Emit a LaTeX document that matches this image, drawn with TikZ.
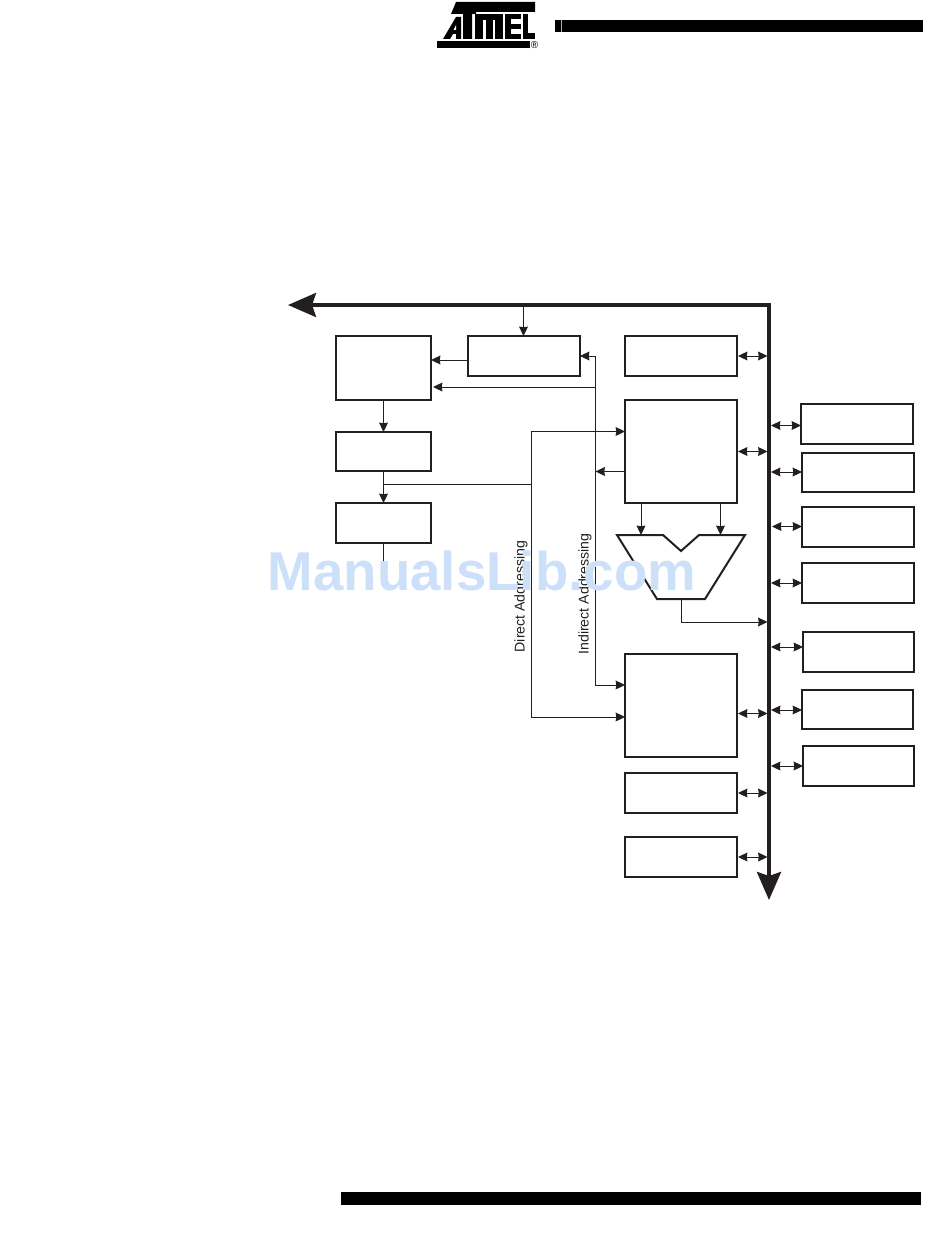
\documentclass[tikz,border=0pt]{standalone}
\usepackage{fontspec}
\setmainfont{Liberation Sans}
\usetikzlibrary{arrows.meta,fit}
\definecolor{ink}{HTML}{231F20}
\definecolor{wm}{HTML}{CCE0F9}
\tikzset{
  blockbox/.style={draw=ink,line width=1.5pt,inner sep=0pt,outer sep=0pt,fill=white},
  wire/.style={draw=ink,line width=0.75pt},
  tip/.style={-{Stealth[length=7pt,width=6.6pt,inset=0.4pt]}},
  dtip/.style={{Stealth[length=7pt,width=6.6pt,inset=0.4pt]}-{Stealth[length=7pt,width=6.6pt,inset=0.4pt]}},
  busline/.style={draw=ink,line width=2.9pt,miter limit=10,{Stealth[length=21pt,width=18pt,inset=3pt]}-{Stealth[length=21pt,width=18pt,inset=3pt]}},
  addr/.style={rotate=90,font=\fontsize{10.6pt}{12pt}\selectfont,text=ink,inner sep=0pt},
  watermark/.style={font=\bfseries\fontsize{41pt}{50pt}\selectfont,text=wm,inner sep=0pt},
  solidblack/.style={fill=black,draw=none},
  solidwhite/.style={fill=white,draw=none}
}
\newcommand{\blk}[5]{\node[blockbox,fit={(#2,#3)(#4,#5)}] (#1) {};}
\begin{document}
\begin{tikzpicture}[x=0.75pt,y=-0.75pt]
\useasboundingbox (0,0) rectangle (950,1248);
% header and footer bars
\path[solidblack] (555,20) rectangle (923,32);
\path[fill=white!70!black,draw=none] (560.6,20) rectangle (561.2,32);
\path[solidblack] (341,1192) rectangle (921,1205);
% logo
\path[solidblack] (456,2) -- (535,2) -- (535,12) -- (476,12) -- (476,14) -- (472,14) -- (472,39) -- (463,39) -- (463,14) -- (451,14) -- cycle;
\path[solidblack] (437,41.5) -- (530,41.5) -- (530,48.5) -- (437,48.5) -- cycle;
\path[solidblack] (443,39) -- (456,17) -- (461,17) -- (461,39) -- (456,39) -- (456,34) -- (453,34) -- (450,39) -- cycle;
\path[solidwhite] (456,25) -- (456,30) -- (453.5,30) -- cycle;
\path[solidblack] (475,14) rectangle (503,39);
\path[solidwhite] (483,20) rectangle (485.5,39);
\path[solidwhite] (492.5,20) rectangle (495,39);
\path[solidblack] (505,14) rectangle (521,39);
\path[solidwhite] (511,19) rectangle (521,24);
\path[solidwhite] (511,29) rectangle (521,34);
\path[solidblack] (523,14) rectangle (528,39);
\path[solidblack] (523,33.5) rectangle (535,39);
\node[inner sep=0pt,font=\fontsize{7.5pt}{8pt}\selectfont,text=black] (logoR) at (534.5,45.5) {®};
% blocks
\blk{A}{336}{336}{431}{400}
\blk{B}{468}{336}{580}{376}
\blk{C}{336}{432}{431}{471}
\blk{D}{336}{503}{431}{543}
\blk{E}{625}{336}{737}{376}
\blk{F}{625}{400}{737}{503}
\blk{G}{625}{654}{737}{757}
\blk{H}{625}{773}{737}{813}
\blk{I}{625}{837}{737}{877}
\blk{Ra}{801}{404}{913}{444}
\blk{Rb}{802}{453}{914}{492}
\blk{Rc}{802}{507}{914}{547}
\blk{Rd}{802}{563}{914}{603}
\blk{Re}{803}{632}{914}{672}
\blk{Rf}{802}{690}{913}{729}
\blk{Rg}{803}{746}{914}{786}
% ALU
\draw[draw=ink,line width=1.5pt,fill=white,miter limit=6] (617,535) -- (663,535) -- (681,551) -- (699,535) -- (745,535) -- (705,599) -- (657,599) -- cycle;
\coordinate (aluInA) at (641,535);
\coordinate (aluInB) at (720.5,535);
\coordinate (aluOut) at (681,599);
% bus
\coordinate (busL) at (288,305);
\coordinate (busC) at (769,305);
\coordinate (busB) at (769,900);
\draw[busline] (busL) -- (busC) -- (busB);
% junctions and free ends
\coordinate (jI) at (595.5,387);
\coordinate (jF) at (595.5,471.5);
\coordinate (jD) at (531.5,484);
\coordinate (jC) at (383.5,484);
\coordinate (dEnd) at (383.5,578);
% control connectors
\draw[wire,tip] (523.5,306) -- (B.north -| 523.5,0);
\draw[wire,tip] (B.west |- 0,360) -- (A.east |- 0,360);
\draw[wire,tip] (A.south) -- (C.north);
\draw[wire,tip] (C.south) -- (D.north);
\draw[wire] (D.south) -- (dEnd);
\draw[wire] (jC) -- (jD);
\draw[wire,tip] (jD) -- (531.5,431.5) -- (F.west |- 0,431.5);
\draw[wire,tip] (jD) -- (531.5,717) -- (G.west |- 0,717);
\draw[wire,tip] (595.5,356) -- (B.east |- 0,356);
\draw[wire,tip] (595.5,356) -- (595.5,685) -- (G.west |- 0,685);
\draw[wire,tip] (jI) -- (433,387);
\draw[wire,tip] (F.west |- jF) -- (jF);
\draw[wire,tip] (F.south -| 641,0) -- (aluInA);
\draw[wire,tip] (F.south -| 720.5,0) -- (aluInB);
\draw[wire,tip] (aluOut) -- (681,622) -- (767.5,622);
% bus links, left
\draw[wire,dtip] (E.east |- 0,356) ++(1,0) -- (767.5,356);
\draw[wire,dtip] (F.east |- 0,451.5) ++(1,0) -- (767.5,451.5);
\draw[wire,dtip] (G.east |- 0,713.5) ++(1,0) -- (767.5,713.5);
\draw[wire,dtip] (H.east |- 0,793) ++(1,0) -- (767.5,793);
\draw[wire,dtip] (I.east |- 0,857) ++(1,0) -- (767.5,857);
% bus links, right
\draw[wire,dtip] (771,425.5) -- (Ra.west |- 0,425.5);
\draw[wire,dtip] (771,472) -- (Rb.west |- 0,472);
\draw[wire,dtip] (772,526.5) -- (Rc.west |- 0,526.5);
\draw[wire,dtip] (771,583) -- (Rd.west |- 0,583);
\draw[wire,dtip] (771,647) -- (Re.west |- 0,647);
\draw[wire,dtip] (771,710) -- (Rf.west |- 0,710);
\draw[wire,dtip] (771,766) -- (Rg.west |- 0,766);
% labels
\node[addr] (lDirect) at (521,596.5) {Direct Addressing};
\node[addr] (lIndirect) at (585,594) {Indirect Addressing};
% watermark
\node[watermark] (wmark) at (482,570.5) {ManualsLib.com};
\end{tikzpicture}
\end{document}
